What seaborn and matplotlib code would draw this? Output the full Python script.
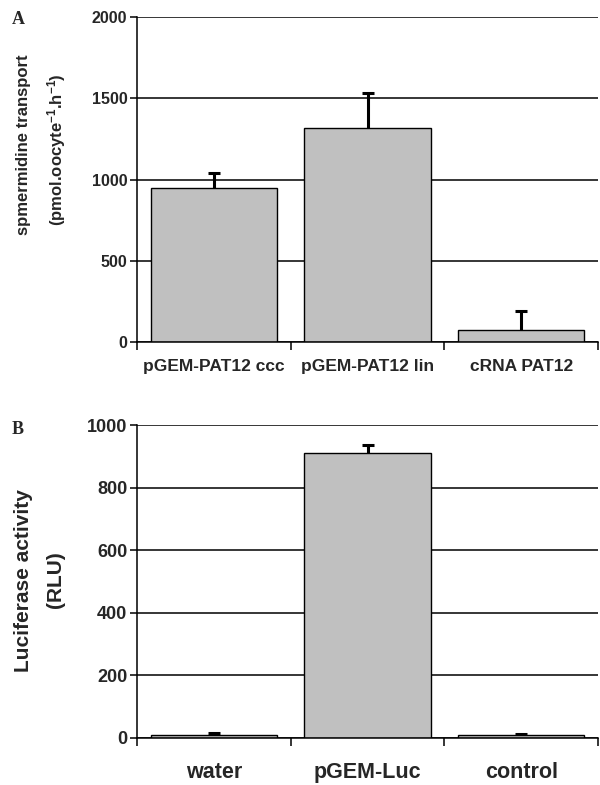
"""
Two-panel bar chart: spermidine transport (A) and luciferase activity (B).
"""

import numpy as np
import pandas as pd
import matplotlib
matplotlib.use("Agg")
import matplotlib.pyplot as plt
import seaborn as sns

# ─────────────────────────────────────────────
# Data
# ─────────────────────────────────────────────
a_categories = ["pGEM-PAT12 ccc", "pGEM-PAT12 lin", "cRNA PAT12"]
a_values = [950, 1315, 75]
a_errors = [90, 215, 115]
a_ticks = [0, 500, 1000, 1500, 2000]

b_categories = ["water", "pGEM-Luc", "control"]
b_values = [10, 910, 8]
b_errors = [6, 25, 4]
b_ticks = [0, 200, 400, 600, 800, 1000]

BAR_COLOR = "#c0c0c0"
W, H = 600, 785

sns.set_theme(style="white")
plt.rcParams["font.family"] = ["Liberation Sans", "DejaVu Sans"]
plt.rcParams["font.weight"] = "bold"
plt.rcParams["mathtext.fontset"] = "custom"
plt.rcParams["mathtext.bf"] = "Liberation Sans:bold"
plt.rcParams["mathtext.rm"] = "Liberation Sans:bold"
plt.rcParams["mathtext.default"] = "bf"


def px_axes(fig, left, top, right, bottom):
    """Add axes using pixel coordinates measured from the top-left corner."""
    return fig.add_axes([left / W, 1 - bottom / H, (right - left) / W, (bottom - top) / H])


def draw_panel(ax, categories, values, errors, ticks, tick_fs, label_fs, label_pad):
    df = pd.DataFrame({"category": categories, "value": values})
    sns.barplot(data=df, x="category", y="value", color=BAR_COLOR, saturation=1,
                edgecolor="black", linewidth=1.0, width=0.82, errorbar=None, ax=ax,
                zorder=2)
    # upper-only error bars, Excel style
    _, caps, _ = ax.errorbar(np.arange(len(values)), values,
                             yerr=[np.zeros(len(errors)), errors],
                             fmt="none", ecolor="black", elinewidth=2.2, capsize=4.5,
                             capthick=2.2, zorder=3)
    caps[0].set_visible(False)  # drop the cap sitting on the bar top

    ax.set_xlim(-0.5, len(categories) - 0.5)
    ax.set_ylim(ticks[0], ticks[-1])
    ax.set_yticks(ticks)
    ax.set_yticklabels([str(t) for t in ticks], fontsize=tick_fs, fontweight="bold")
    ax.set_xticks(np.arange(len(categories)))
    ax.set_xticklabels(categories, fontsize=label_fs, fontweight="bold")
    ax.set_xticks(np.arange(len(categories) + 1) - 0.5, minor=True)
    ax.tick_params(axis="x", which="major", length=0, pad=label_pad)
    ax.tick_params(axis="x", which="minor", length=6, width=1.1, direction="out",
                   color="black", bottom=True)
    ax.tick_params(axis="y", which="major", length=5, width=1.1, direction="out",
                   color="black", left=True, pad=2)
    ax.set_xlabel("")
    ax.set_ylabel("")

    ax.yaxis.grid(True, color="black", linewidth=1.1, zorder=0)
    ax.set_axisbelow(True)
    for side in ["top", "right"]:
        ax.spines[side].set_visible(False)
    for side in ["left", "bottom"]:
        ax.spines[side].set_color("black")
        ax.spines[side].set_linewidth(1.1)


fig = plt.figure(figsize=(W / 100, H / 100), dpi=100)

# Panel A
ax_a = px_axes(fig, 137, 17, 598, 342)
draw_panel(ax_a, a_categories, a_values, a_errors, a_ticks,
           tick_fs=11.5, label_fs=12.5, label_pad=12)
fig.text(24 / W, 1 - 145 / H, "spmermidine transport", rotation=90,
         ha="center", va="center", fontsize=12, fontweight="bold")
fig.text(57 / W, 1 - 150 / H, r"(pmol.oocyte$^{\mathbf{-1}}$.h$^{\mathbf{-1}}$)",
         rotation=90, ha="center", va="center", fontsize=12, fontweight="bold")
fig.text(12 / W, 1 - 20 / H, "A", ha="left", va="center", fontsize=13,
         fontweight="bold", family=["Liberation Serif", "DejaVu Serif"])

# Panel B
ax_b = px_axes(fig, 137, 425, 598, 738)
draw_panel(ax_b, b_categories, b_values, b_errors, b_ticks,
           tick_fs=13, label_fs=15.5, label_pad=17)
fig.text(24 / W, 1 - 581 / H, "Luciferase activity", rotation=90,
         ha="center", va="center", fontsize=15, fontweight="bold")
fig.text(56 / W, 1 - 580 / H, "(RLU)", rotation=90,
         ha="center", va="center", fontsize=15, fontweight="bold")
fig.text(12 / W, 1 - 429 / H, "B", ha="left", va="center", fontsize=13,
         fontweight="bold", family=["Liberation Serif", "DejaVu Serif"])

fig.savefig("out.png", dpi=100)
